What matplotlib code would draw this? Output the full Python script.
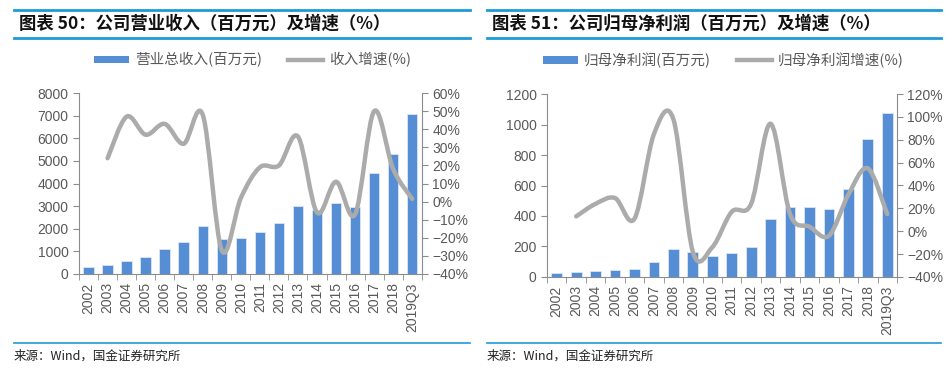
import numpy as np
import matplotlib
matplotlib.use('Agg')
import matplotlib.pyplot as plt
from matplotlib.path import Path
from matplotlib.patches import PathPatch
from matplotlib.lines import Line2D
from matplotlib.patches import Patch

plt.rcParams['font.family'] = ['Liberation Sans', 'Noto Sans CJK SC', 'DejaVu Sans']

# --- DATA --------------------------------------------------------------------
years = ['2002', '2003', '2004', '2005', '2006', '2007', '2008', '2009', '2010',
         '2011', '2012', '2013', '2014', '2015', '2016', '2017', '2018', '2019Q3']

revenue = [310, 400, 575, 766, 1090, 1430, 2120, 1550, 1590,
           1870, 2240, 3020, 2830, 3120, 2945, 4460, 5300, 7080]
revenue_growth = [None, 24, 47, 37, 43, 32, 48, -27, 2,
                  19, 20, 36, -6, 11, -7, 50, 18, 1.5]

profit = [28, 31, 37, 48, 53, 96, 184, 162, 140,
          158, 199, 383, 460, 460, 445, 580, 902, 1077]
profit_growth = [None, 13, 24, 29, 11, 85, 98, -18, -14,
                 17, 24, 94, 15, 4, -4, 32, 55, 15]

titles = ['图表 50：公司营业收入（百万元）及增速（%）',
          '图表 51：公司归母净利润（百万元）及增速（%）']
bar_labels = ['营业总收入(百万元)', '归母净利润(百万元)']
line_labels = ['收入增速(%)', '归母净利润增速(%)']
source_text = '来源：Wind，国金证券研究所'

left_ticks = [list(range(0, 8001, 1000)), list(range(0, 1201, 200))]
right_ticks = [list(range(-40, 61, 10)), list(range(-40, 121, 20))]

BAR_COLOR = '#558ED5'
LINE_COLOR = '#ABABAB'
TEXT_COLOR = '#595959'
SPINE_COLOR = '#8C8C8C'
RULE_COLOR = '#1E9BD7'


def smooth_path(xs, ys):
    """Excel-like smoothed line: cubic Bezier segments through the points."""
    pts = np.column_stack([xs, ys]).astype(float)
    n = len(pts)
    verts = [pts[0]]
    codes = [Path.MOVETO]
    for i in range(n - 1):
        p0 = pts[i - 1] if i > 0 else pts[i]
        p1 = pts[i]
        p2 = pts[i + 1]
        p3 = pts[i + 2] if i + 2 < n else pts[i + 1]
        c1 = p1 + (p2 - p0) / 6.0
        c2 = p2 - (p3 - p1) / 6.0
        verts += [c1, c2, p2]
        codes += [Path.CURVE4] * 3
    return Path(verts, codes)


def draw_panel(fig, rect, bars, growth, lticks, rticks):
    ax = fig.add_axes(rect)
    x = np.arange(len(years))
    ax.bar(x, bars, width=0.55, color=BAR_COLOR, edgecolor='#DCE6F2',
           linewidth=0.6, zorder=2)
    ax.set_xlim(-0.5, len(years) - 0.5)
    ax.set_ylim(lticks[0], lticks[-1])
    ax.set_yticks(lticks)
    ax.set_xticks(x)
    ax.set_xticklabels(years, rotation=90, fontsize=10, color=TEXT_COLOR)
    ax.set_xticks(np.arange(-0.5, len(years)), minor=True)
    ax.tick_params(axis='x', which='major', length=0, pad=6)
    ax.tick_params(axis='x', which='minor', length=4, color=SPINE_COLOR)
    ax.tick_params(axis='y', length=4, color=SPINE_COLOR, labelsize=10,
                   labelcolor=TEXT_COLOR)
    for side in ['top', 'right']:
        ax.spines[side].set_visible(False)
    for side in ['left', 'bottom']:
        ax.spines[side].set_color(SPINE_COLOR)

    ax2 = ax.twinx()
    ax2.set_ylim(rticks[0], rticks[-1])
    ax2.set_yticks(rticks)
    ax2.set_yticklabels([f'{v}%'.replace('-', '\u2212') for v in rticks])
    ax2.tick_params(axis='y', length=4, color=SPINE_COLOR, labelsize=10,
                    labelcolor=TEXT_COLOR)
    for side in ['top', 'left', 'bottom']:
        ax2.spines[side].set_visible(False)
    ax2.spines['right'].set_color(SPINE_COLOR)

    gx = [i for i, v in enumerate(growth) if v is not None]
    gy = [v for v in growth if v is not None]
    ax2.add_patch(PathPatch(smooth_path(gx, gy), facecolor='none',
                            edgecolor=LINE_COLOR, linewidth=3.2,
                            capstyle='round', joinstyle='round', zorder=3))
    return ax


fig = plt.figure(figsize=(9.52, 3.71), dpi=100)

panels = [
    dict(rect=[0.083, 0.2615, 0.360, 0.4875], bars=revenue, growth=revenue_growth,
         x0=0.0147, x1=0.494, legend_x=0.265),
    dict(rect=[0.5746, 0.2534, 0.3676, 0.4932], bars=profit, growth=profit_growth,
         x0=0.5116, x1=0.988, legend_x=0.76),
]

for k, p in enumerate(panels):
    draw_panel(fig, p['rect'], p['bars'], p['growth'], left_ticks[k], right_ticks[k])

    # header rules and title
    for yy in (0.973, 0.898):
        fig.add_artist(Line2D([p['x0'], p['x1']], [yy, yy], color=RULE_COLOR,
                              linewidth=2, transform=fig.transFigure))
    fig.text(p['x0'] + 0.005, 0.935, titles[k], fontsize=12.5, fontweight='bold',
             fontstyle='italic', color='#111111', va='center', ha='left',
             family=['Noto Sans CJK SC', 'DejaVu Sans'])

    # legend
    handles = [Patch(facecolor=BAR_COLOR, edgecolor='none'),
               Line2D([], [], color=LINE_COLOR, linewidth=3.2)]
    fig.legend(handles, [bar_labels[k], line_labels[k]], loc='center',
               bbox_to_anchor=(p['legend_x'], 0.838), ncol=2, frameon=False,
               handlelength=2.4, handleheight=0.45,
               columnspacing=1.8, handletextpad=0.4, labelcolor=TEXT_COLOR,
               prop={'family': ['Noto Sans CJK SC', 'DejaVu Sans'], 'size': 10.5})

    # footer rule and source
    fig.add_artist(Line2D([p['x0'], p['x1']], [0.0755, 0.0755], color=RULE_COLOR,
                          linewidth=1.2, transform=fig.transFigure))
    fig.text(p['x0'] - 0.001, 0.040, source_text, fontsize=9, color='#222222',
             va='center', ha='left',
             family=['Noto Sans CJK SC', 'DejaVu Sans'])

fig.savefig('out.png', dpi=100, facecolor='white')
plt.close(fig)
